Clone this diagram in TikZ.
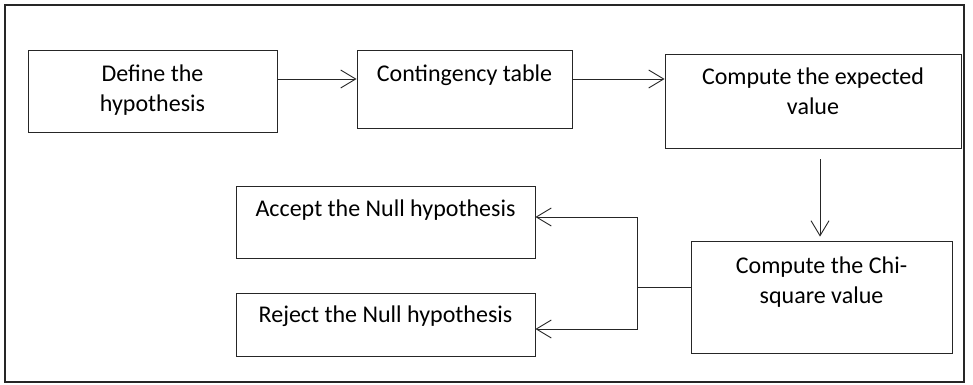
\documentclass[tikz,border=0pt]{standalone}
\usepackage{fontspec}
\setmainfont{Carlito}
\usetikzlibrary{positioning, arrows.meta}
\definecolor{lineGrey}{HTML}{262626}

\begin{document}
\begin{tikzpicture}[x=1pt, y=-1pt, font=\fontsize{24}{29.5}\selectfont,
    stepbox/.style={draw=lineGrey, line width=0.9pt, inner sep=0pt},
    steptext/.style={anchor=base, align=center, inner sep=0pt, yshift=-32pt},
    twolines/.style={steptext, yshift=-29.5pt},
    flow/.style={-{Straight Barb[length=15pt, width=18pt]}, line width=0.9pt, lineGrey}]
    \useasboundingbox (0,0) rectangle (973,384);
    \draw[line width=2.6pt, black!85] (5,5) rectangle (964,382);
    % top row
    \node[stepbox, minimum width=249pt, minimum height=82pt,
      label={[twolines]north:Define the\\hypothesis}] (define) at (152.5,91) {};
    \node[stepbox, minimum width=215pt, minimum height=78pt,
      label={[steptext]north:Contingency table}] (table) at (464.5,89) {};
    \node[stepbox, minimum width=296pt, minimum height=94pt,
      label={[twolines, yshift=1pt]north:Compute the expected\\value}] (expected) at (813,101) {};
    % bottom row
    \node[stepbox, minimum width=261pt, minimum height=112pt,
      label={[twolines, yshift=-1pt]north:Compute the Chi-\\square value}] (chisq) at (821.5,297) {};
    \node[stepbox, minimum width=299pt, minimum height=72pt,
      label={[steptext, yshift=1pt]north:Accept the Null hypothesis}] (accept) at (385.5,222) {};
    \node[stepbox, minimum width=299pt, minimum height=63pt,
      label={[steptext, yshift=2pt]north:Reject the Null hypothesis}] (reject) at (385.5,324.5) {};

    \draw[flow] ([yshift=12pt]define.east) coordinate (d1) -- (d1 -| table.west);
    \draw[flow] ([yshift=10pt]table.east) coordinate (t1) -- (t1 -| expected.west);
    \draw[flow] ([shift={(7,11)}]expected.south) coordinate (e1) -- ([yshift=4pt]e1 |- chisq.north);
    \draw[line width=0.9pt, lineGrey] ([yshift=10pt]chisq.west) -- ++(-53,0) coordinate (split);
    \draw[flow] (split) |- ([yshift=5pt]accept.east);
    \draw[flow] (split) |- ([yshift=-4.5pt]reject.east);
\end{tikzpicture}
\end{document}
